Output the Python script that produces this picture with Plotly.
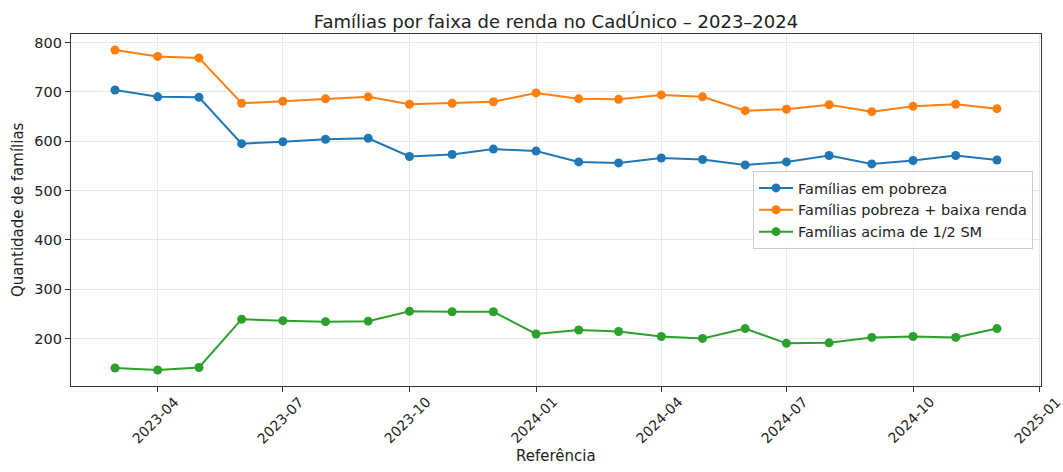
import plotly.graph_objects as go

months = ["2023-03-01", "2023-04-01", "2023-05-01", "2023-06-01", "2023-07-01", "2023-08-01",
          "2023-09-01", "2023-10-01", "2023-11-01", "2023-12-01", "2024-01-01", "2024-02-01",
          "2024-03-01", "2024-04-01", "2024-05-01", "2024-06-01", "2024-07-01", "2024-08-01",
          "2024-09-01", "2024-10-01", "2024-11-01", "2024-12-01"]

pobreza = [704, 690, 689, 595, 599, 604, 606, 569, 573, 584, 580, 558,
           556, 566, 563, 552, 558, 571, 554, 561, 571, 562]
pobreza_baixa = [785, 772, 769, 677, 681, 686, 690, 675, 677, 680, 698, 686,
                 685, 694, 690, 662, 665, 674, 660, 671, 675, 666]
acima_meio_sm = [140, 136, 141, 239, 236, 234, 235, 255, 254, 254, 209, 217,
                 214, 204, 200, 220, 190, 191, 202, 204, 202, 220]

series_names = ["Famílias em pobreza", "Famílias pobreza + baixa renda", "Famílias acima de 1/2 SM"]
series_colors = ["#1f77b4", "#ff7f0e", "#2ca02c"]

tick_dates = ["2023-04-01", "2023-07-01", "2023-10-01", "2024-01-01", "2024-04-01",
              "2024-07-01", "2024-10-01", "2025-01-01"]
tick_labels = ["2023-04", "2023-07", "2023-10", "2024-01", "2024-04", "2024-07", "2024-10", "2025-01"]

y_ticks = [200, 300, 400, 500, 600, 700, 800]

FONT = "DejaVu Sans"
TXT = "#222222"

fig = go.Figure()
for name, vals, col in zip(series_names, [pobreza, pobreza_baixa, acima_meio_sm], series_colors):
    fig.add_trace(go.Scatter(
        x=months, y=vals, name=name, mode="lines+markers",
        line=dict(color=col, width=2),
        marker=dict(color=col, size=9),
    ))

annotations = []
for d, lab in zip(tick_dates, tick_labels):
    annotations.append(dict(
        x=d, y=0, xref="x", yref="paper", text=lab, showarrow=False,
        textangle=-45, xanchor="center", yanchor="middle", yshift=-34, xshift=-2,
        font=dict(family=FONT, size=14, color=TXT),
    ))
annotations.append(dict(
    x=0.5, y=0, xref="paper", yref="paper", text="Referência", showarrow=False,
    xanchor="center", yanchor="middle", yshift=-70,
    font=dict(family=FONT, size=15, color=TXT),
))
annotations.append(dict(
    x=0, y=0.5, xref="paper", yref="paper", text="Quantidade de famílias", showarrow=False,
    textangle=-90, xanchor="center", yanchor="middle", xshift=-53,
    font=dict(family=FONT, size=15, color=TXT),
))

fig.update_layout(
    width=1063, height=472,
    margin=dict(l=71, r=22, t=34, b=86),
    paper_bgcolor="white", plot_bgcolor="white",
    font=dict(family=FONT, size=15, color=TXT),
    title=dict(text="Famílias por faixa de renda no CadÚnico – 2023–2024",
               x=0.5, xref="paper", xanchor="center", y=0.955, yanchor="middle",
               font=dict(family=FONT, size=18, color=TXT)),
    showlegend=True,
    legend=dict(x=0.9918, xanchor="right", y=0.5, yanchor="middle",
                bgcolor="rgba(255,255,255,0.8)", bordercolor="#cccccc", borderwidth=1,
                font=dict(family=FONT, size=14.5, color=TXT),
                tracegroupgap=0, itemwidth=34),
    annotations=annotations,
)

fig.update_xaxes(
    type="date",
    range=["2023-01-28", "2025-01-02"],
    tickvals=tick_dates, showticklabels=False,
    ticks="outside", ticklen=5, tickcolor="#333333", tickwidth=1,
    showgrid=True, gridcolor="#e6e6e6", gridwidth=1,
    showline=True, linecolor="#333333", linewidth=1.2, mirror=True,
    zeroline=False,
)
fig.update_yaxes(
    range=[103.5, 817.5],
    tickvals=y_ticks,
    ticks="outside", ticklen=5, tickcolor="#333333", tickwidth=1,
    tickfont=dict(family=FONT, size=14.5, color=TXT),
    showgrid=True, gridcolor="#e6e6e6", gridwidth=1,
    showline=True, linecolor="#333333", linewidth=1.2, mirror=True,
    zeroline=False,
)

fig.write_html(
    "out.html",
    config={"displayModeBar": False},
    post_script="document.body.style.margin='0';document.body.style.overflow='hidden';",
)
